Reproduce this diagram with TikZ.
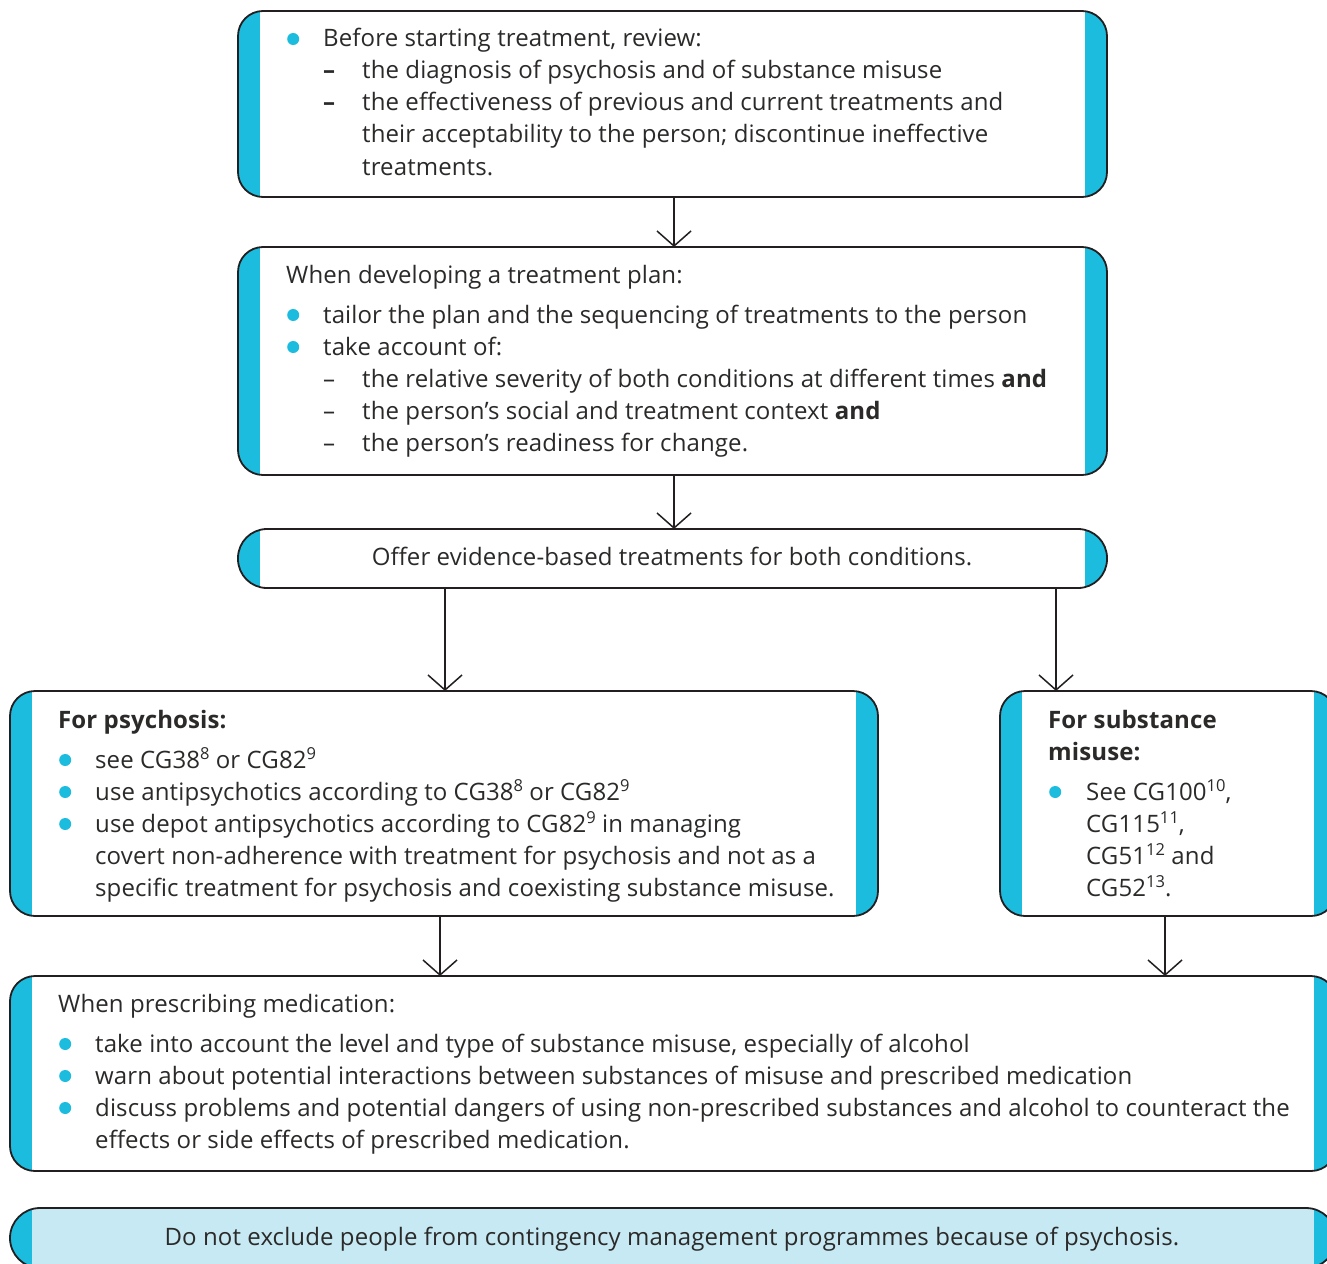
\documentclass[tikz,border=0pt]{standalone}
\usepackage{fontspec}
\setmainfont{Open Sans}[LetterSpace=0.5]
\usetikzlibrary{arrows.meta}
\definecolor{bcol}{HTML}{1CBCDF}
\definecolor{lcol}{HTML}{C7E9F3}
\definecolor{tcol}{HTML}{2B2A29}
\definecolor{lncol}{HTML}{231F20}
\newcommand\bul{\makebox[0pt][c]{\tikz[baseline=0pt]\fill[bcol] (0pt,8pt) circle[radius=6pt];}}
\newcommand\dsh{\makebox[39pt][l]{–}}
\newcommand\bdsh{\makebox[39pt][l]{\textbf{–}}}
\newcommand\sups[1]{\raisebox{8.5pt}{\fontsize{16.5}{16.5}\selectfont #1}}
\newcommand\decobox[3]{%
  \fill[#3, rounded corners=#2] (#1.north west) rectangle (#1.south east);
  \begin{scope}
    \clip[rounded corners=#2] (#1.north west) rectangle (#1.south east);
    \fill[bcol] (#1.north west) rectangle ([xshift=22pt]#1.south west);
    \fill[bcol] ([xshift=-22pt]#1.north east) rectangle (#1.south east);
  \end{scope}
  \draw[line width=1.8pt, lncol, rounded corners=#2] (#1.north west) rectangle (#1.south east);
}
\begin{document}
\begin{tikzpicture}[x=1pt,y=-1pt,
  frame/.style={inner sep=0pt, outer sep=0pt, draw=none},
  txt/.style={anchor=base west, inner sep=0pt, text=tcol, font=\fontsize{24}{32}\selectfont},
  ctxt/.style={anchor=base, inner sep=0pt, text=tcol, font=\fontsize{24}{32}\selectfont},
  arr/.style={line width=1.5pt, lncol, -{Straight Barb[length=15pt,width=34pt,line width=1.5pt]}}]
\useasboundingbox (0,0) rectangle (1327,1263);
\fill[white] (0,0) rectangle (1327,1263);

% frames
\node[frame, minimum width=869pt, minimum height=186pt] (b1) at (672.5,104) {};
\node[frame, minimum width=869pt, minimum height=228pt] (b2) at (672.5,361) {};
\node[frame, minimum width=869pt, minimum height=59pt] (b3) at (672.5,558.5) {};
\node[frame, minimum width=868pt, minimum height=225pt] (b4) at (444,803.5) {};
\node[frame, minimum width=336pt, minimum height=225pt] (b5) at (1168,803.5) {};
\node[frame, minimum width=1326pt, minimum height=195pt] (b6) at (673,1073.5) {};
\node[frame, minimum width=1326pt, minimum height=60pt] (b7) at (673,1238) {};

\decobox{b1}{25pt}{white}
\decobox{b2}{25pt}{white}
\decobox{b3}{29pt}{white}
\decobox{b4}{25pt}{white}
\decobox{b5}{25pt}{white}
\decobox{b6}{25pt}{white}
\decobox{b7}{30pt}{lcol}

% texts
\node[txt] (t1) at (293,47) {\parbox[t]{800pt}{%
\bul\hspace*{30pt}Before starting treatment, review:\\
\hspace*{30pt}\bdsh the diagnosis of psychosis and of substance misuse\\
\hspace*{30pt}\bdsh the effectiveness of previous and current treatments and\\
\hspace*{69pt}their acceptability to the person; discontinue ineffective\\
\hspace*{69pt}treatments.}};

\node[txt] (t2) at (286,283) {\parbox[t]{810pt}{%
When developing a treatment plan:\\[8pt]
\hspace*{7pt}\bul\hspace*{30pt}tailor the plan and the sequencing of treatments to the person\\
\hspace*{7pt}\bul\hspace*{30pt}take account of:\\
\hspace*{37pt}\dsh the relative severity of both conditions at different times \textbf{and}\\
\hspace*{37pt}\dsh the person’s social and treatment context \textbf{and}\\
\hspace*{37pt}\dsh the person’s readiness for change.}};

\node[ctxt] (t3) at (672,565) {Offer evidence-based treatments for both conditions.};

\node[txt] (t4) at (58,728) {\parbox[t]{800pt}{%
\textbf{For psychosis:}\\[8pt]
\hspace*{7pt}\bul\hspace*{30pt}see CG38\sups{8} or CG82\sups{9}\\
\hspace*{7pt}\bul\hspace*{30pt}use antipsychotics according to CG38\sups{8} or CG82\sups{9}\\
\hspace*{7pt}\bul\hspace*{30pt}use depot antipsychotics according to CG82\sups{9} in managing\\
\hspace*{37pt}covert non-adherence with treatment for psychosis and not as a\\
\hspace*{37pt}specific treatment for psychosis and coexisting substance misuse.}};

\node[txt] (t5) at (1048,728) {\parbox[t]{270pt}{%
\textbf{For substance}\\
\textbf{misuse:}\\[8pt]
\hspace*{7pt}\bul\hspace*{31pt}See CG100\sups{10},\\
\hspace*{38pt}CG115\sups{11},\\
\hspace*{38pt}CG51\sups{12} and\\
\hspace*{38pt}CG52\sups{13}.}};

\node[txt] (t6) at (58,1012) {\parbox[t]{1260pt}{%
When prescribing medication:\\[8pt]
\hspace*{7pt}\bul\hspace*{30pt}take into account the level and type of substance misuse, especially of alcohol\\
\hspace*{7pt}\bul\hspace*{30pt}warn about potential interactions between substances of misuse and prescribed medication\\
\hspace*{7pt}\bul\hspace*{30pt}discuss problems and potential dangers of using non-prescribed substances and alcohol to counteract the\\
\hspace*{37pt}effects or side effects of prescribed medication.}};

\node[ctxt] (t7) at (672,1245) {Do not exclude people from contingency management programmes because of psychosis.};

% connectors
\coordinate (a5) at (1056,691);
\coordinate (a6) at (440,976);
\draw[arr] ([xshift=1.5pt]b1.south) -- ([xshift=1.5pt]b2.north);
\draw[arr] ([xshift=1.5pt]b2.south) -- ([xshift=1.5pt]b3.north);
\draw[arr] ([xshift=1pt]b4.north |- b3.south) -- ([xshift=1pt]b4.north);
\draw[arr] (a5 |- b3.south) -- (a5);
\draw[arr] (a6 |- b4.south) -- (a6);
\draw[arr] (1165,916) -- (1165,916 |- b6.north);
\end{tikzpicture}
\end{document}
